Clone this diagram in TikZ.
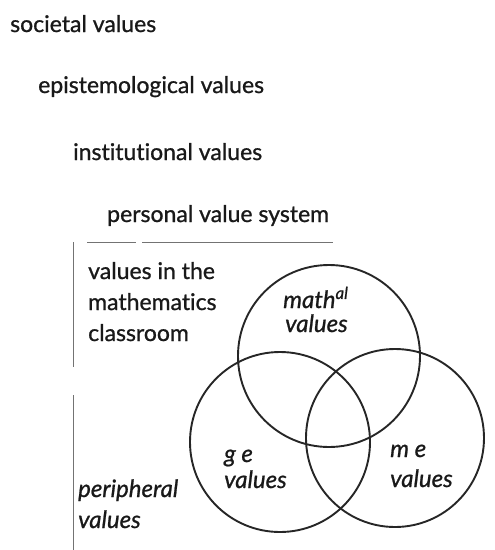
\documentclass[tikz,border=0pt]{standalone}
\usepackage{fontspec}
\setmainfont{Lato}[FakeBold=0.9,Ligatures=NoCommon]
\begin{document}
\begin{tikzpicture}[x=1pt,y=-1pt,
  lbl/.style={anchor=base west,inner sep=0pt,text=black!90,font=\fontsize{23}{27}\selectfont},
  ilbl/.style={anchor=base west,inner sep=0pt,text=black!90,font=\fontsize{24}{28}\selectfont\itshape},
  ring/.style={draw=black!85,line width=1.9pt,circle,inner sep=0pt},
  frame/.style={draw=black!55,line width=0.7pt}]
\useasboundingbox (0,0) rectangle (495,550);
\node[lbl] (soc) at (10,32) {societal values};
\node[lbl] (epi) at (38,93) {epistemological values};
\node[lbl] (ins) at (73,160) {institutional values};
\node[lbl] (per) at (107,222) {personal value system};
\coordinate (f1) at (87,242); \coordinate (f2) at (136,242);
\coordinate (f3) at (142,242); \coordinate (f4) at (333,242);
\coordinate (v1) at (73,242); \coordinate (v2) at (73,367);
\coordinate (v3) at (73,395); \coordinate (v4) at (73,550);
\draw[frame] (f1) -- (f2) (f3) -- (f4);
\draw[frame] (v1) -- (v2) (v3) -- (v4);
\node[lbl] (c1) at (88,279) {values in the};
\node[lbl] (c2) at (88,310) {mathematics};
\node[lbl] (c3) at (88,341) {classroom};
\node[ilbl] (p1) at (78,497) {peripheral};
\node[ilbl] (p2) at (78,528) {values};
\node[ring,minimum size=182pt] (top) at (329,356) {};
\node[ring,minimum size=180pt] (bl) at (280,442) {};
\node[ring,minimum size=178pt] (br) at (395,438) {};
\node[ilbl] (m1) at (283,308) {math\textsuperscript{al}};
\node[ilbl] (m2) at (285,332) {values};
\node[ilbl] (g1) at (224,462) {g e};
\node[ilbl] (g2) at (224,488) {values};
\node[ilbl] (e1) at (390,457) {m e};
\node[ilbl] (e2) at (390,487) {values};
\end{tikzpicture}
\end{document}
